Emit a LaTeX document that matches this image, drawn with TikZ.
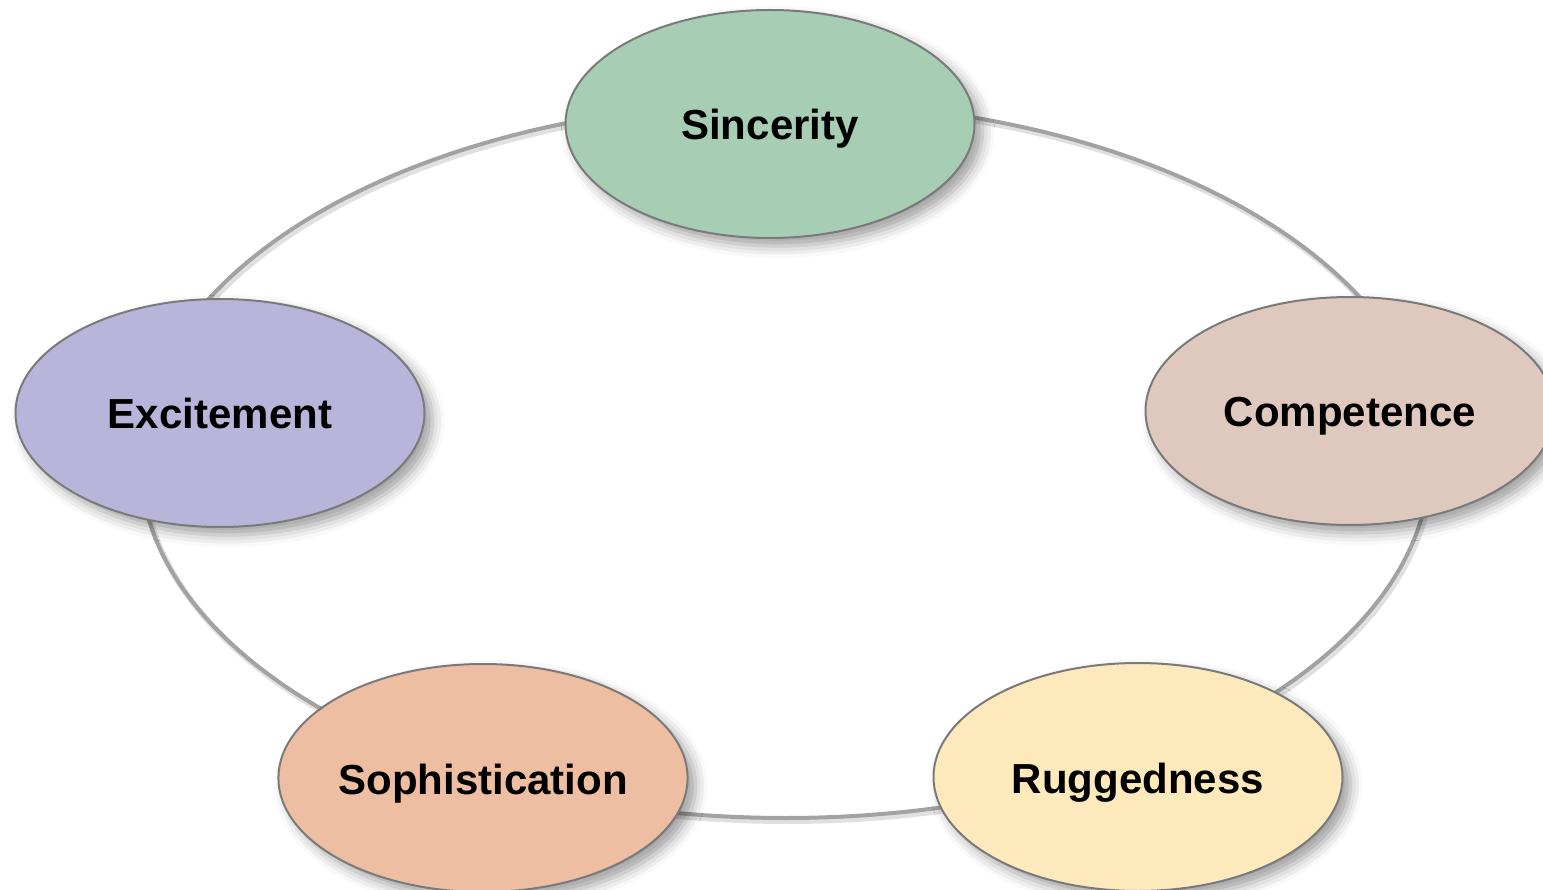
\documentclass[tikz,border=0pt]{standalone}
\usepackage{fontspec}
\setmainfont{Liberation Sans}
\usetikzlibrary{shapes.geometric,shadows.blur}
\definecolor{ringgray}{HTML}{A2A2A2}
\definecolor{edgegray}{HTML}{7A7A7A}
\definecolor{fillSinc}{HTML}{A7CDB4}
\definecolor{fillComp}{HTML}{DFC9BE}
\definecolor{fillRugg}{HTML}{FEE9BC}
\definecolor{fillSoph}{HTML}{EEBEA3}
\definecolor{fillExci}{HTML}{B9B4DA}
\tikzset{
  trait/.style={ellipse, draw=edgegray, line width=2pt, inner sep=0pt,
    minimum width=409pt, minimum height=228pt,
    text height=32pt, text depth=0pt,
    font=\fontsize{42}{50}\selectfont\bfseries, text=black,
    blur shadow={shadow xshift=8pt, shadow yshift=-8pt,
      shadow blur radius=12pt, shadow opacity=38}},
  ringline/.style={draw=ringgray, line width=4pt},
  ringshade/.style={draw=black!12, line width=6pt}
}
\begin{document}
\begin{tikzpicture}[x=1pt,y=-1pt]
  \useasboundingbox (0,0) rectangle (1543,890);
  % ring that links the five traits
  \coordinate (ring) at (785,460);
  \draw[ringshade] ([shift={(2,3)}]ring) ellipse [x radius=645, y radius=358];
  \draw[ringline] (ring) ellipse [x radius=645, y radius=358];
  % the five traits
  \node[trait, fill=fillSinc] (sinc) at (770,124) {Sincerity};
  \node[trait, fill=fillComp] (comp) at (1350,411) {Competence};
  \node[trait, fill=fillRugg] (rugg) at (1138,777) {Ruggedness};
  \node[trait, fill=fillSoph] (soph) at (483,778) {Sophistication};
  \node[trait, fill=fillExci] (exci) at (220,413) {Excitement};
\end{tikzpicture}
\end{document}
